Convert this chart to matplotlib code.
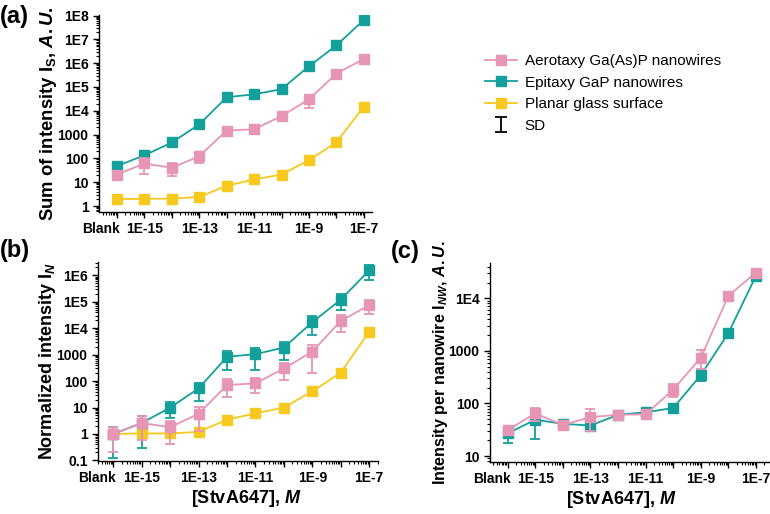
import numpy as np
import matplotlib
matplotlib.use("Agg")
import matplotlib.pyplot as plt
from matplotlib.ticker import FixedLocator, NullFormatter, LogLocator
from matplotlib.lines import Line2D
import matplotlib.transforms as mtransforms

plt.rcParams['font.family'] = ['Liberation Sans', 'DejaVu Sans']
plt.rcParams['mathtext.fontset'] = 'custom'
plt.rcParams['mathtext.rm'] = 'Liberation Sans:bold'
plt.rcParams['mathtext.it'] = 'Liberation Sans:italic:bold'
plt.rcParams['mathtext.bf'] = 'Liberation Sans:bold'

# ---- data ----
conc = [1e-16, 1e-15, 1e-14, 1e-13, 1e-12, 1e-11, 1e-10, 1e-9, 1e-8, 1e-7]  # first = Blank
xtick_labels = ['Blank', '1E-15', '', '1E-13', '', '1E-11', '', '1E-9', '', '1E-7']

# (a) sum of intensity
pink_a = [21, 61, 40, 124, 1480, 1660, 6000, 30000, 365000, 1.5e6]
pink_a_sd = [3, 39, 22, 59, 200, 250, 700, 16500, 40000, 150000]
teal_a = [48, 135, 465, 2700, 37000, 49000, 81000, 740000, 5.5e6, 6.5e7]
teal_a_sd = [8, 15, 60, 400, 5000, 19000, 10000, 80000, 600000, 7e6]
yellow_a = [1.96, 2.0, 2.05, 2.4, 7.1, 13, 21, 84, 470, 15000]
yellow_a_sd = [0.2, 0.2, 0.2, 0.3, 1.0, 2, 3, 10, 150, 2000]

# (b) normalized intensity
pink_b = [1.0, 2.6, 1.8, 5.8, 71, 82, 300, 1300, 19000, 74000]
pink_b_sd = [0.8, 2.0, 1.4, 4.5, 45, 47, 190, 1100, 11500, 40000]
teal_b = [1.0, 2.6, 10, 53, 830, 1050, 1860, 17000, 120000, 1.55e6]
teal_b_sd = [0.88, 2.3, 6, 35, 560, 780, 1250, 11500, 72000, 900000]
yellow_b = [1.0, 1.05, 1.05, 1.2, 3.5, 6.0, 10, 41, 210, 7400]
yellow_b_sd = [0.05, 0.1, 0.1, 0.1, 0.8, 1.0, 1.5, 5, 70, 800]

# (c) intensity per nanowire
pink_c = [31, 65, 39, 55, 61, 62, 183, 745, 11200, 31000]
pink_c_sd = [4, 18, 3, 25, 4, 7, 50, 300, 800, 2000]
teal_c = [27, 49, 41, 38, 61, 68, 82, 345, 2200, 27000]
teal_c_sd = [9, 28, 4, 5, 3, 4, 6, 80, 150, 1500]

names = ['Aerotaxy Ga(As)P nanowires', 'Epitaxy GaP nanowires', 'Planar glass surface', 'SD']
PINK = '#e795b5'
TEAL = '#13a09b'
YEL = '#f7c81e'

fig = plt.figure(figsize=(7.7, 5.14), dpi=100)
W, H = 770, 514

def box(l, t, r, b):
    return [l / W, 1 - b / H, (r - l) / W, (b - t) / H]

axa = fig.add_axes(box(99, 15, 372, 212))
axb = fig.add_axes(box(98, 262, 378, 461))
axc = fig.add_axes(box(490, 263, 769, 462))

def series(ax, y, sd, color, z):
    y = np.array(y, float); sd = np.array(sd, float)
    lo = np.minimum(sd, y * 0.9)
    ax.errorbar(conc, y, yerr=[lo, sd], fmt='-s', color=color, ecolor=color,
                ms=6.5, lw=1.3, elinewidth=1.3, capsize=3.5, capthick=1.3,
                mec=color, zorder=z)

def style(ax, xl, yl, ylfs, yticks, ylabels, ylim, labx, labely):
    ax.set_xscale('log'); ax.set_yscale('log')
    ax.set_xlim(*xl); ax.set_ylim(*ylim)
    ax.xaxis.set_major_locator(FixedLocator(conc))
    ax.set_xticklabels(xtick_labels)
    ax.xaxis.set_minor_locator(LogLocator(base=10, subs=np.arange(2, 10), numticks=30))
    ax.xaxis.set_minor_formatter(NullFormatter())
    ax.yaxis.set_major_locator(FixedLocator(yticks))
    ax.set_yticklabels(ylabels)
    ax.yaxis.set_minor_locator(LogLocator(base=10, subs=np.arange(2, 10), numticks=30))
    ax.yaxis.set_minor_formatter(NullFormatter())
    for s in ['top', 'right']:
        ax.spines[s].set_visible(False)
    for s in ['left', 'bottom']:
        ax.spines[s].set_linewidth(1.0)
    ax.tick_params(which='major', direction='out', length=4, width=1.0, pad=3.5,
                   labelsize=10)
    ax.tick_params(which='minor', direction='out', length=2.2, width=0.8)
    for t in ax.get_xticklabels() + ax.get_yticklabels():
        t.set_fontweight('bold')
    bl = ax.get_xticklabels()[0]
    bl.set_ha('right')
    bl.set_transform(bl.get_transform() + mtransforms.ScaledTranslation(3 / 100, 0, fig.dpi_scale_trans))
    ax.set_ylabel(yl, fontsize=ylfs, fontweight='bold')
    ax.yaxis.set_label_coords(labely, 0.5)
    if labx:
        ax.set_xlabel(r'[StvA647], $\mathit{M}$', fontsize=13, fontweight='bold')
        ax.xaxis.set_label_coords(labx, -0.135)

# panel a
series(axa, yellow_a, yellow_a_sd, YEL, 3)
series(axa, teal_a, teal_a_sd, TEAL, 4)
series(axa, pink_a, pink_a_sd, PINK, 5)
style(axa, (10 ** -16.66, 10 ** -6.70), r'Sum of intensity I$_\mathrm{S}$, $\mathit{A.U.}$', 13.3,
      [1, 10, 100, 1000, 1e4, 1e5, 1e6, 1e7, 1e8],
      ['1', '10', '100', '1000', '1E4', '1E5', '1E6', '1E7', '1E8'], (0.56, 1.05e8), None, -0.145)

# panel b
series(axb, yellow_b, yellow_b_sd, YEL, 3)
series(axb, teal_b, teal_b_sd, TEAL, 4)
series(axb, pink_b, pink_b_sd, PINK, 5)
style(axb, (10 ** -16.54, 10 ** -6.69), r'Normalized intensity I$_\mathit{N}$', 13,
      [0.1, 1, 10, 100, 1000, 1e4, 1e5, 1e6],
      ['0.1', '1', '10', '100', '1000', '1E4', '1E5', '1E6'], (0.095, 3.2e6), 0.53, -0.143)

# panel c
series(axc, teal_c, teal_c_sd, TEAL, 4)
series(axc, pink_c, pink_c_sd, PINK, 5)
style(axc, (10 ** -16.64, 10 ** -6.53), r'Intensity per nanowire I$_\mathit{NW}$, $\mathit{A.U.}$', 11.6,
      [10, 100, 1000, 1e4], ['10', '100', '1000', '1E4'], (7.7, 4.7e4), 0.47, -0.145)

fig.text(0 / W, 1 - 23 / H, '(a)', fontsize=17, fontweight='bold', ha='left', va='baseline')
fig.text(0 / W, 1 - 257 / H, '(b)', fontsize=17, fontweight='bold', ha='left', va='baseline')
fig.text(391 / W, 1 - 258 / H, '(c)', fontsize=17, fontweight='bold', ha='left', va='baseline')

# legend
h1 = Line2D([], [], color=PINK, marker='s', ms=6.5, lw=1.3)
h2 = Line2D([], [], color=TEAL, marker='s', ms=6.5, lw=1.3)
h3 = Line2D([], [], color=YEL, marker='s', ms=6.5, lw=1.3)
dummy = axa.errorbar([np.nan], [np.nan], yerr=[[1], [1]], fmt='none', ecolor='black',
                     elinewidth=1.3, capsize=4, capthick=1.3)
leg = fig.legend([h1, h2, h3, dummy], names, loc='upper left',
                 bbox_to_anchor=(485 / W, 1 - 54 / H), frameon=False, fontsize=11,
                 handlelength=2.1, handletextpad=0.5, labelspacing=0.5,
                 borderpad=0, borderaxespad=0)

fig.savefig('out.png', dpi=100)
